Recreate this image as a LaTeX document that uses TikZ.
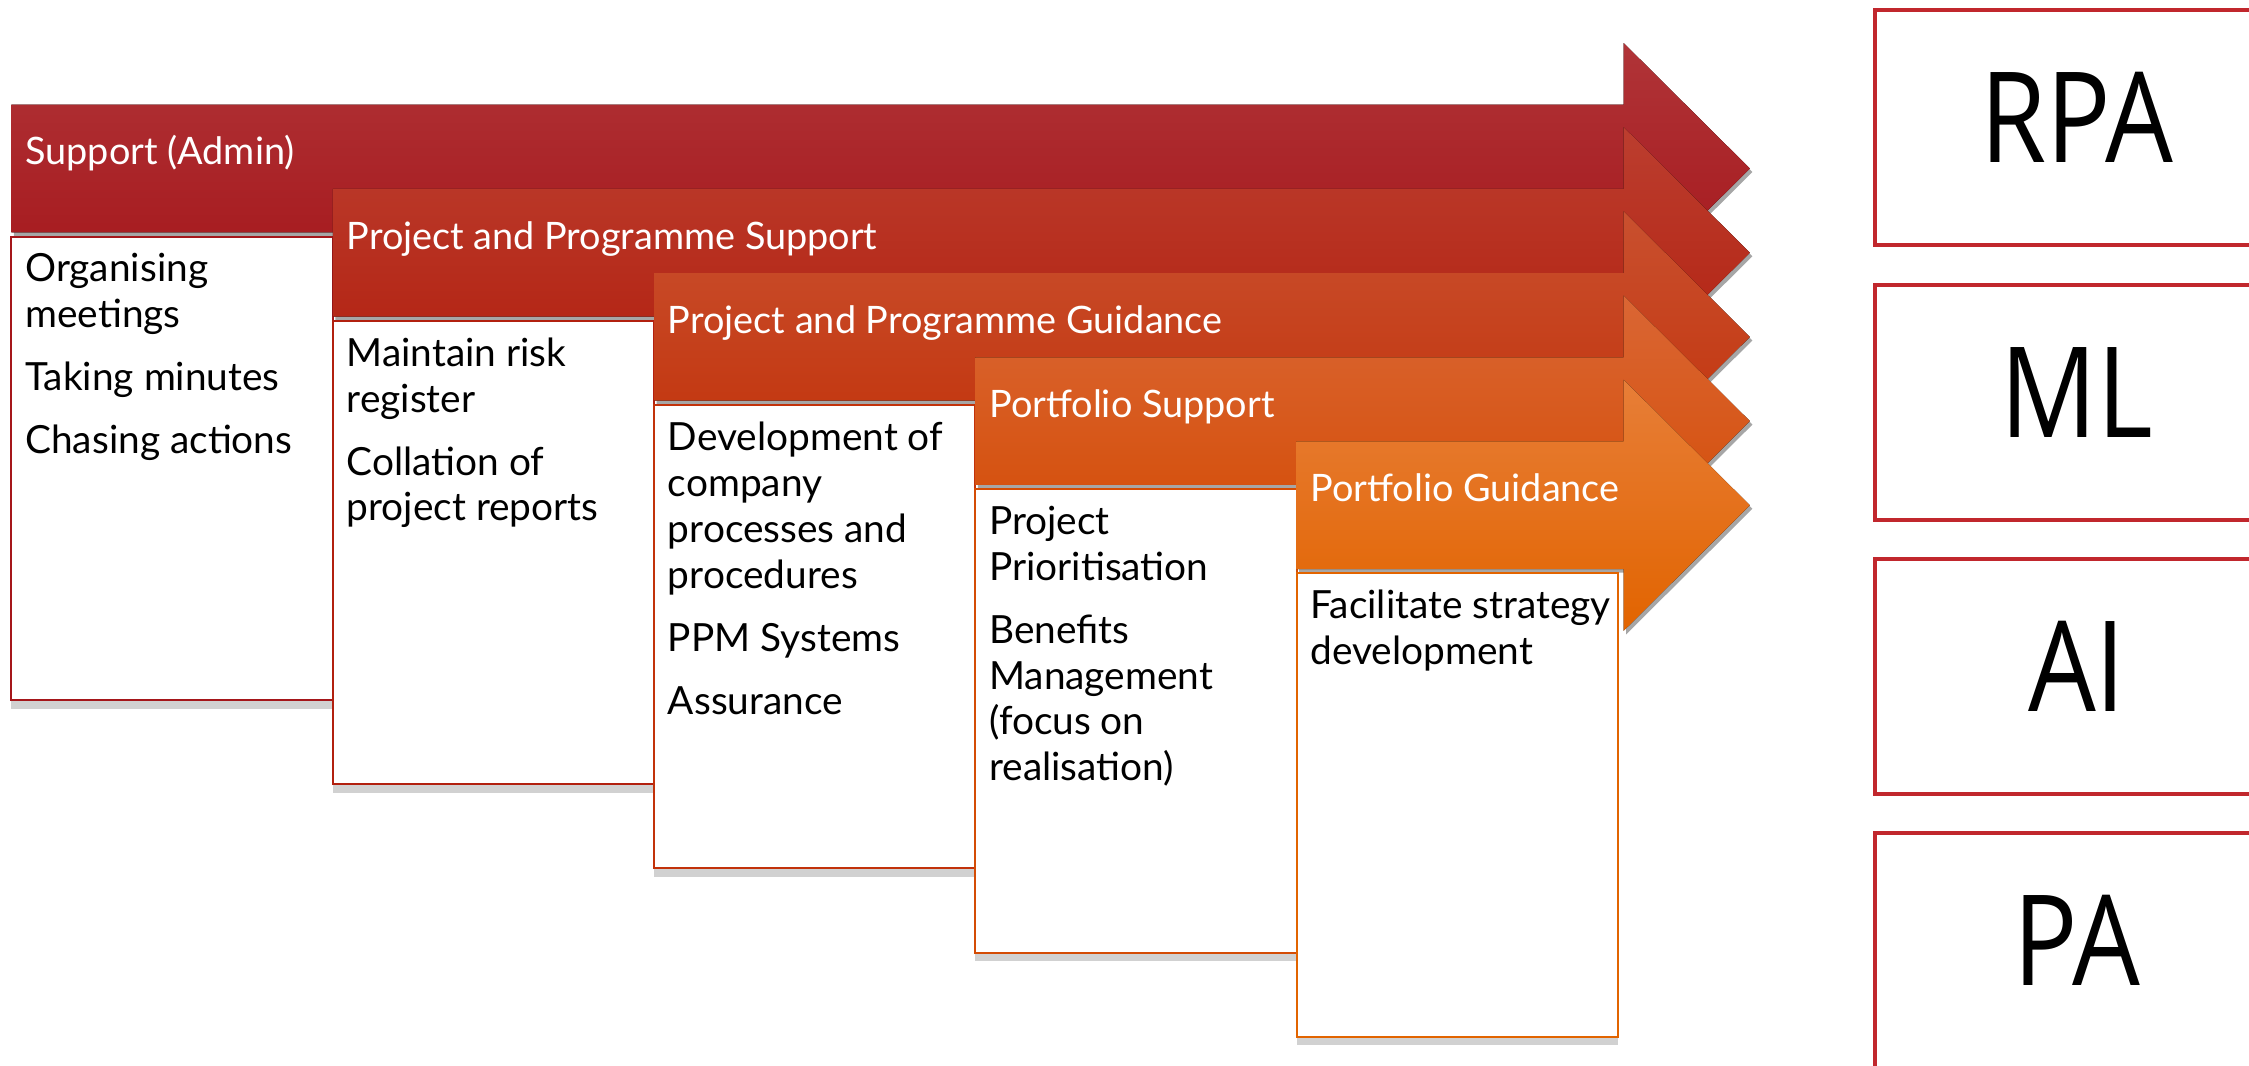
\documentclass[tikz,border=0pt]{standalone}
\usepackage{fontspec}
\setmainfont{Lato}
\newfontfamily\acrofont[FakeStretch=0.85]{Open Sans}
\usepackage{tikz}
\usetikzlibrary{calc,positioning,shadows}
\definecolor{stageA}{HTML}{A5161A}
\definecolor{stageAt}{HTML}{B03438}
\definecolor{stageB}{HTML}{B2200F}
\definecolor{stageBt}{HTML}{BC3E2F}
\definecolor{stageC}{HTML}{C2320A}
\definecolor{stageCt}{HTML}{C9502F}
\definecolor{stageD}{HTML}{D44C05}
\definecolor{stageDt}{HTML}{DA6634}
\definecolor{stageE}{HTML}{E26400}
\definecolor{stageEt}{HTML}{E77E38}
\definecolor{techred}{HTML}{C1272D}
\tikzset{%
	chevron/.style = {drop shadow={shadow xshift=0.5pt, shadow yshift=-0.7pt, opacity=.35, fill=black}},
	stage/.style   = {text=white, anchor=base west, inner sep=0pt, font=\fontsize{7.5pt}{9pt}\selectfont},
	taskbox/.style = {draw=#1, fill=white, line width=0.4pt, rectangle, minimum width=2.24cm, minimum height=3.23cm, anchor=north west, inner sep=0pt, outer sep=0pt, drop shadow={shadow xshift=0pt, shadow yshift=-0.6mm, opacity=.18, fill=black}},
	tasks/.style   = {align=left, inner sep=0pt, font=\fontsize{7.7pt}{9.1pt}\selectfont},
	tech/.style    = {draw=techred, fill=white, line width=0.8pt, rectangle, minimum width=2.82cm, minimum height=1.64cm, text depth=0.14cm, font=\acrofont\fontsize{25pt}{30pt}\selectfont},
}
\begin{document}
\begin{tikzpicture}
	\useasboundingbox (0,0) rectangle (15.68,7.426);
	\clip (0,0) rectangle (15.68,7.426);
	% stage 1
	\fill[chevron, top color=stageAt, bottom color=stageA] (0.08,6.696) -- (11.32,6.696) -- (11.32,7.126) -- (12.20,6.251) -- (11.32,5.376) -- (11.32,5.806) -- (0.08,5.806) -- cycle;
	\node[taskbox=stageA] (supbox) at (0.08,5.776) {};
	\node[stage] (sup) at (0.17,6.276) {Support (Admin)};
	\node[tasks, below right=0.11 and 0.09 of supbox.north west] (suptasks) {Organising\\ meetings\\[3.4pt] Taking minutes\\[3.4pt] Chasing actions};
	% stage 2
	\fill[chevron, top color=stageBt, bottom color=stageB] (2.32,6.109) -- (11.32,6.109) -- (11.32,6.539) -- (12.20,5.664) -- (11.32,4.789) -- (11.32,5.219) -- (2.32,5.219) -- cycle;
	\node[taskbox=stageB] (ppsbox) at (2.32,5.189) {};
	\node[stage] (pps) at (2.41,5.689) {Project and Programme Support};
	\node[tasks, below right=0.11 and 0.09 of ppsbox.north west] (ppstasks) {Maintain risk\\ register\\[3.4pt] Collation of\\ project reports};
	% stage 3
	\fill[chevron, top color=stageCt, bottom color=stageC] (4.56,5.522) -- (11.32,5.522) -- (11.32,5.952) -- (12.20,5.077) -- (11.32,4.202) -- (11.32,4.632) -- (4.56,4.632) -- cycle;
	\node[taskbox=stageC] (ppgbox) at (4.56,4.602) {};
	\node[stage] (ppg) at (4.65,5.102) {Project and Programme Guidance};
	\node[tasks, below right=0.11 and 0.09 of ppgbox.north west] (ppgtasks) {Development of\\ company\\ processes and\\ procedures\\[3.4pt] PPM Systems\\[3.4pt] Assurance};
	% stage 4
	\fill[chevron, top color=stageDt, bottom color=stageD] (6.80,4.935) -- (11.32,4.935) -- (11.32,5.365) -- (12.20,4.490) -- (11.32,3.615) -- (11.32,4.045) -- (6.80,4.045) -- cycle;
	\node[taskbox=stageD] (pfsbox) at (6.80,4.015) {};
	\node[stage] (pfs) at (6.89,4.515) {Portfolio Support};
	\node[tasks, below right=0.11 and 0.09 of pfsbox.north west] (pfstasks) {Project\\ Prioritisation\\[3.4pt] Benefits\\ Management\\ (focus on\\ realisation)};
	% stage 5
	\fill[chevron, top color=stageEt, bottom color=stageE] (9.04,4.348) -- (11.32,4.348) -- (11.32,4.778) -- (12.20,3.903) -- (11.32,3.028) -- (11.32,3.458) -- (9.04,3.458) -- cycle;
	\node[taskbox=stageE] (pfgbox) at (9.04,3.428) {};
	\node[stage] (pfg) at (9.13,3.928) {Portfolio Guidance};
	\node[tasks, below right=0.11 and 0.09 of pfgbox.north west] (pfgtasks) {Facilitate strategy\\ development};
	% technologies, cut off at the right edge
	\node[tech] (rpa) at (14.48,6.536) {RPA};
	\node[tech] (ml) at (14.48,4.621) {ML};
	\node[tech] (ai) at (14.48,2.711) {AI};
	\node[tech] (pa) at (14.48,0.801) {PA};
\end{tikzpicture}
\end{document}
